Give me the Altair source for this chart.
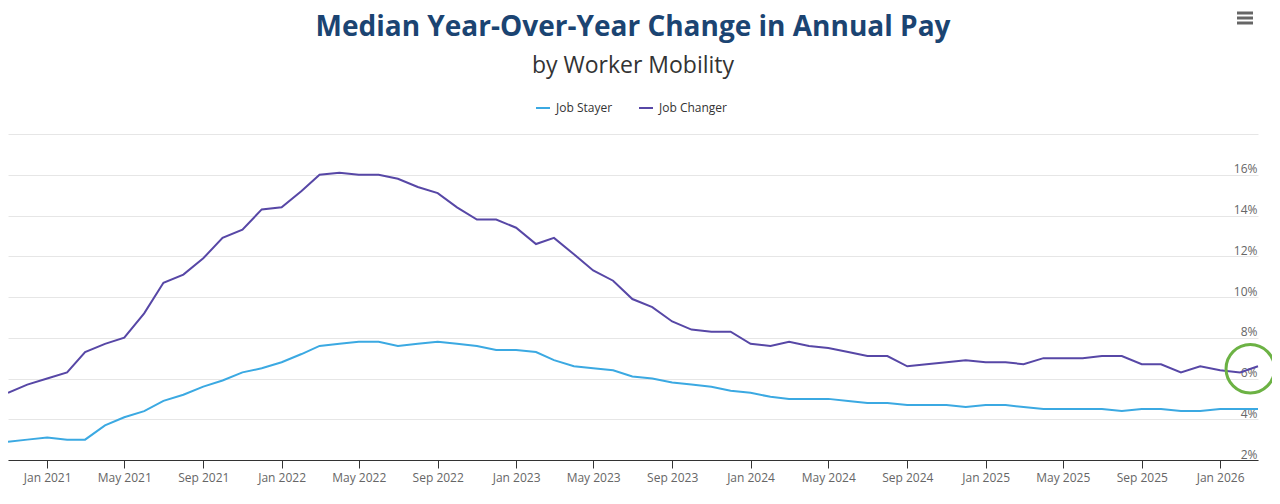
import altair as alt
import pandas as pd

# ---- data ----
start_month = "2020-11-01"
n_months = 65
job_stayer = [2.9, 3.0, 3.1, 3.0, 3.0, 3.7, 4.1, 4.4, 4.9, 5.2, 5.6, 5.9, 6.3, 6.5, 6.8, 7.2,
              7.6, 7.7, 7.8, 7.8, 7.6, 7.7, 7.8, 7.7, 7.6, 7.4, 7.4, 7.3, 6.9, 6.6, 6.5, 6.4,
              6.1, 6.0, 5.8, 5.7, 5.6, 5.4, 5.3, 5.1, 5.0, 5.0, 5.0, 4.9, 4.8, 4.8, 4.7, 4.7,
              4.7, 4.6, 4.7, 4.7, 4.6, 4.5, 4.5, 4.5, 4.5, 4.4, 4.5, 4.5, 4.4, 4.4, 4.5, 4.5, 4.5]
job_changer = [5.3, 5.7, 6.0, 6.3, 7.3, 7.7, 8.0, 9.2, 10.7, 11.1, 11.9, 12.9, 13.3, 14.3, 14.4, 15.2,
               16.0, 16.1, 16.0, 16.0, 15.8, 15.4, 15.1, 14.4, 13.8, 13.8, 13.4, 12.6, 12.9, 12.1, 11.3, 10.8,
               9.9, 9.5, 8.8, 8.4, 8.3, 8.3, 7.7, 7.6, 7.8, 7.6, 7.5, 7.3, 7.1, 7.1, 6.6, 6.7,
               6.8, 6.9, 6.8, 6.8, 6.7, 7.0, 7.0, 7.0, 7.1, 7.1, 6.7, 6.7, 6.3, 6.6, 6.4, 6.3, 6.6]
series_names = ["Job Stayer", "Job Changer"]
series_colors = ["#3ba9e2", "#5747a6"]
tick_years_months = [(2021, 1), (2021, 5), (2021, 9), (2022, 1), (2022, 5), (2022, 9),
                     (2023, 1), (2023, 5), (2023, 9), (2024, 1), (2024, 5), (2024, 9),
                     (2025, 1), (2025, 5), (2025, 9), (2026, 1)]
y_ticks = [2, 4, 6, 8, 10, 12, 14, 16, 18]
highlight_date = "2026-02-17"
highlight_value = 6.48

dates = pd.date_range(start_month, periods=n_months, freq="MS")
df = pd.concat([
    pd.DataFrame({"date": dates, "value": job_stayer, "series": series_names[0]}),
    pd.DataFrame({"date": dates, "value": job_changer, "series": series_names[1]}),
])

W, H = 1250, 326
FONT = "Open Sans"

x_scale = alt.Scale(domain=[alt.DateTime(year=2020, month=11, date=1),
                            alt.DateTime(year=2026, month=3, date=1)], nice=False)
y_scale = alt.Scale(domain=[2, 18], nice=False, zero=False)

x_axis = alt.Axis(
    values=[alt.DateTime(year=y, month=m, date=1) for y, m in tick_years_months],
    format="%b %Y", title=None, grid=False,
    domainColor="#333333", domainWidth=1, tickColor="#333333", tickSize=8,
    labelFont=FONT, labelFontSize=12, labelColor="#666666", labelPadding=4,
    labelFlush=False,
)
y_axis = alt.Axis(
    orient="right", values=y_ticks, title=None, domain=False, ticks=False, tickSize=0,
    grid=True, gridColor="#e6e6e6", gridWidth=1,
    labelAlign="right", labelBaseline="alphabetic", labelPadding=-1, labelOffset=-2,
    labelFont=FONT, labelFontSize=12, labelColor="#666666",
    labelExpr="datum.value == 18 ? '' : datum.value + '%'",
)

lines = alt.Chart(df).mark_line(strokeWidth=2).encode(
    x=alt.X("date:T", scale=x_scale, axis=x_axis),
    y=alt.Y("value:Q", scale=y_scale, axis=y_axis),
    color=alt.Color("series:N",
                    scale=alt.Scale(domain=series_names, range=series_colors),
                    legend=alt.Legend(orient="none", legendX=527, legendY=-34,
                                      direction="horizontal", title=None,
                                      symbolType="stroke", symbolSize=196, symbolStrokeWidth=2,
                                      labelFont=FONT, labelFontSize=12, labelColor="#333333",
                                      labelOffset=5, columnPadding=22, padding=0)),
    detail="series:N",
)

hl = pd.DataFrame({"date": [pd.Timestamp(highlight_date)], "value": [highlight_value]})
circle = alt.Chart(hl).mark_point(shape="circle", filled=False, size=2350,
                                  strokeWidth=3, color="#6cb244", opacity=1).encode(
    x="date:T", y="value:Q")

# hamburger menu icon (page decoration, outside the plot)
menu_bars = [
    alt.Chart(pd.DataFrame({"k": [0]})).mark_rule(color="#666666", strokeWidth=3).encode(
        x=alt.value(1229), x2=alt.value(1245), y=alt.value(yy))
    for yy in (-121, -116, -111)
]

chart = alt.layer(lines, circle, *menu_bars).properties(
    width=W, height=H,
    autosize=alt.AutoSizeParams(type="none"),
    padding={"left": 0, "top": 126, "right": 14, "bottom": 30},
    title=alt.TitleParams(
        text="Median Year-Over-Year Change in Annual Pay",
        subtitle="by Worker Mobility",
        anchor="middle", font=FONT, fontSize=28, fontWeight="bold", color="#1b4472",
        subtitleFont=FONT, subtitleFontSize=23, subtitleColor="#333333",
        subtitlePadding=13, offset=-66,
    ),
).configure_view(stroke=None)

chart.save("out.html", embed_options={"renderer": "svg", "actions": False})
